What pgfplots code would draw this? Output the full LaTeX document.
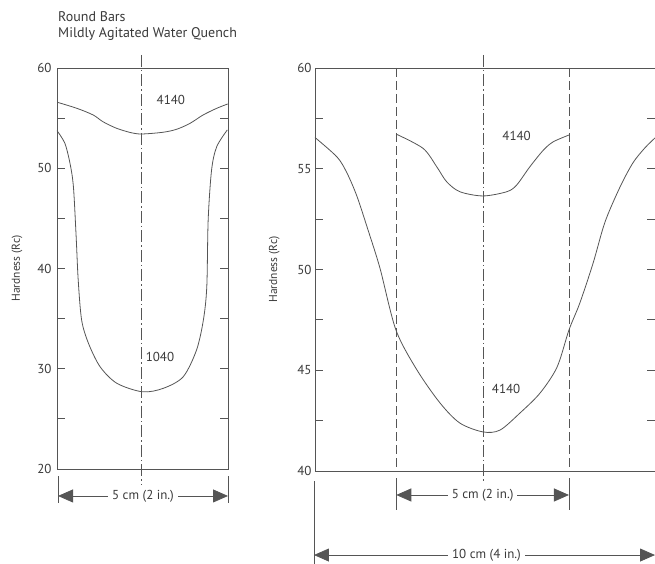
\documentclass[border=0pt]{standalone}
\usepackage{fontspec}
\setmainfont{PT Sans}
\usepackage{pgfplots}
\pgfplotsset{compat=1.18}
\usetikzlibrary{arrows.meta}
\definecolor{txt}{HTML}{3A3A3A}
\definecolor{ln}{HTML}{555555}
\pgfplotsset{
  mystyle/.style={
    scale only axis, anchor=south west, clip=false,
    axis line style={ln, line width=0.9pt},
    every tick/.style={ln, line width=0.8pt},
    major tick length=8pt, minor tick length=8pt,
    xtick=\empty, ytick pos=both, tick align=inside,
    /pgf/number format/assume math mode=true,
    yticklabel style={text=txt, font=\fontsize{13}{15}\selectfont},
    ylabel style={text=txt, font=\fontsize{11.5}{14}\selectfont, anchor=center},
  },
}
\tikzset{
  crv/.style={ln, line width=0.8pt, smooth, tension=0.5},
  dd/.style={ln, line width=0.8pt, dash pattern=on 12pt off 3pt on 1.5pt off 3pt},
  ds/.style={ln, line width=0.8pt, dash pattern=on 9pt off 4pt},
  dim/.style={ln, line width=0.8pt, {Triangle[length=15pt 0 0,width=13pt 0 0]}-{Triangle[length=15pt 0 0,width=13pt 0 0]}},
  ext/.style={ln, line width=0.8pt},
  lab/.style={text=txt, font=\fontsize{13}{15}\selectfont, fill=white, inner sep=4pt},
  clab/.style={text=txt, font=\fontsize{13}{15}\selectfont, inner sep=0pt},
}
\begin{document}
\begin{tikzpicture}
\useasboundingbox (0,0) rectangle (655pt,563pt);
\node[anchor=base west, inner sep=0, text=txt, font=\fontsize{14}{16}\selectfont] at (58pt, 541.5pt) {Round Bars};
\node[anchor=base west, inner sep=0, text=txt, font=\fontsize{14}{16}\selectfont] at (58pt, 525.5pt) {Mildly Agitated Water Quench};

% Left axis
\begin{axis}[mystyle, at={(57pt,94pt)}, width=171pt, height=401pt,
  xmin=-2.5, xmax=2.5, ymin=20, ymax=60,
  ytick={20,30,40,50,60}, minor ytick={25,35,45,55},
  yticklabel style={xshift=-2pt},
  ylabel={Hardness (Rc)},
  ylabel style={at={(axis description cs:-0.234,0.5)}}]
\addplot[crv, no marks] coordinates {(-2.49,56.58) (-1.92,55.98) (-1.44,55.31) (-1.155,54.64) (-0.754,53.98) (-0.3,53.52) (0.0,53.42) (0.60,53.59) (1.0,53.89) (1.39,54.48) (1.77,55.31) (2.17,55.98) (2.49,56.41)};
\addplot[crv, no marks] coordinates {(-2.5,53.75) (-2.27,52.49) (-2.12,50.49) (-2.02,48.16) (-1.94,43.17) (-1.88,38.85) (-1.78,34.86) (-1.58,32.54) (-1.24,30.2) (-0.75,28.55) (0,27.7) (0.61,28.05) (1.19,29.2) (1.58,31.87) (1.78,34.86) (1.88,38.18) (1.92,44.84) (2.02,49.83) (2.17,52.15) (2.48,53.82)};
\draw[dd] (axis cs:-0.04,61.3) -- (axis cs:-0.04,18.4);
\draw[ext] (axis cs:-2.47,19.30) -- (axis cs:-2.47,16.61);
\draw[ext] (axis cs:2.50,19.30) -- (axis cs:2.50,16.61);
\draw[dim] (axis cs:-2.47,17.31) -- (axis cs:2.50,17.31) node[midway, lab] {5 cm (2 in.)};
\node[clab] at (axis cs:0.83,56.81) {4140};
\node[clab] at (axis cs:0.51,31.14) {1040};
\end{axis}

% Right axis
\begin{axis}[mystyle, at={(315pt,92pt)}, width=340pt, height=403pt,
  xmin=-4.94, xmax=5.06, ymin=40, ymax=60,
  ytick={40,45,50,55,60}, minor ytick={42.5,47.5,52.5,57.5},
  yticklabel style={xshift=0pt},
  ylabel={Hardness (Rc)},
  ylabel style={at={(axis description cs:-0.12,0.5)}}]
\addplot[crv, no marks] coordinates {(-4.94,56.55) (-4.29,55.58) (-4.0,54.79) (-3.71,53.65) (-3.38,51.96) (-3.03,50.07) (-2.56,47.0) (-1.94,45.01) (-1.26,43.37) (-0.68,42.38) (0,41.94) (0.5,42.03) (1.09,42.88) (1.68,43.87) (2.18,45.16) (2.53,47.0) (2.85,48.34) (3.24,50.32) (3.59,52.36) (4.03,54.09) (4.41,55.29) (4.76,56.03) (5.06,56.53)};
\addplot[crv, no marks] coordinates {(-2.54,56.71) (-1.76,56.01) (-1.36,55.10) (-1.07,54.36) (-0.68,53.86) (0,53.65) (0.70,53.86) (0.99,54.19) (1.38,55.10) (1.78,55.93) (2.07,56.34) (2.54,56.68)};
\draw[ds] (axis cs:-2.55,60) -- (axis cs:-2.55,40);
\draw[ds] (axis cs:2.53,60) -- (axis cs:2.53,40);
\draw[dd] (axis cs:0,60.65) -- (axis cs:0,39.45);
\draw[ext] (axis cs:-2.55,39.65) -- (axis cs:-2.55,38.06);
\draw[ext] (axis cs:2.53,39.65) -- (axis cs:2.53,38.06);
\draw[dim] (axis cs:-2.55,38.81) -- (axis cs:2.53,38.81) node[midway, lab] {5 cm (2 in.)};
\draw[ext] (axis cs:-4.97,39.50) -- (axis cs:-4.97,35.2);
\draw[dim] (axis cs:-4.97,35.83) -- (axis cs:5.06,35.83) node[midway, lab, xshift=2pt] {10 cm (4 in.)};
\node[clab] at (axis cs:0.99,56.63) {4140};
\node[clab] at (axis cs:0.68,44.07) {4140};
\end{axis}
\end{tikzpicture}
\end{document}
